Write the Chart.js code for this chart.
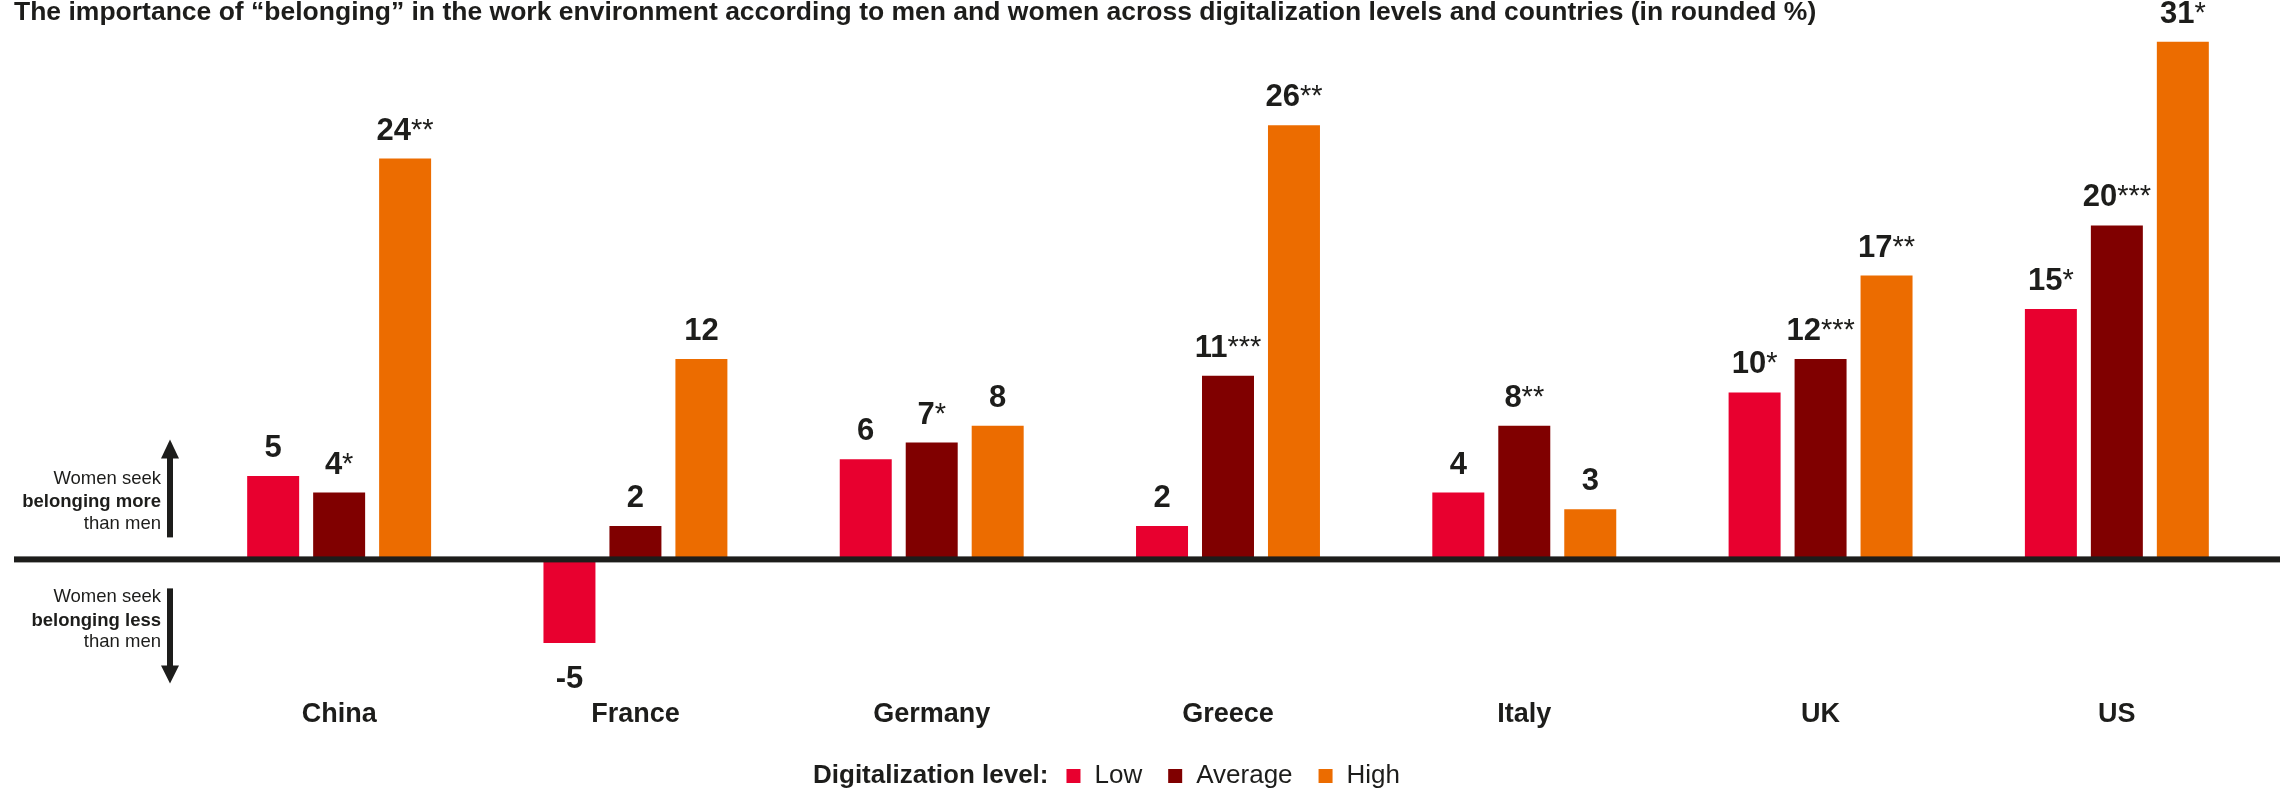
<!DOCTYPE html>
<html>
<head>
<meta charset="utf-8">
<script src="https://cdn.jsdelivr.net/npm/chart.js@4/dist/chart.umd.min.js"></script>
<style>
  html, body { margin: 0; padding: 0; background: #fff; }
  canvas { display: block; }
</style>
</head>
<body>
<canvas id="myChart" width="2280" height="790"></canvas>
<script>
// data
const countries = ['China', 'France', 'Germany', 'Greece', 'Italy', 'UK', 'US'];
const levels = ['Low', 'Average', 'High'];
const lowVals = [5, -5, 6, 2, 4, 10, 15];
const avgVals = [4, 2, 7, 11, 8, 12, 20];
const highVals = [24, 12, 8, 26, 3, 17, 31];
// significance stars next to each value
const lowStars = ['', '', '', '', '', '*', '*'];
const avgStars = ['*', '', '*', '***', '**', '***', '***'];
const highStars = ['**', '', '', '**', '', '**', '*'];

const titleText = 'The importance of \u201cbelonging\u201d in the work environment according to men and women across digitalization levels and countries (in rounded %)';
const legendTitle = 'Digitalization level:';

const colors = ['#e8002f', '#800000', '#ec6c00'];
const ink = '#1d1d1b';
const FONT = 'Arial, "Liberation Sans", sans-serif';

const starSets = [lowStars, avgStars, highStars];

// title, zero line, side notes, value labels, legend
const extras = {
  id: 'extras',
  afterDatasetsDraw(chart) {
    const ctx = chart.ctx;
    const y0 = chart.scales.y.getPixelForValue(0);
    ctx.save();

    // title
    ctx.fillStyle = ink;
    ctx.font = 'bold 26.5px ' + FONT;
    ctx.textAlign = 'left';
    ctx.textBaseline = 'middle';
    ctx.fillText(titleText, 14, 13);

    // zero line
    ctx.fillStyle = ink;
    ctx.fillRect(14, y0 - 3, chart.width - 14, 6);

    // notes on the left
    const notes = [
      [-80, 'Women seek', false], [-57, 'belonging more', true], [-35, 'than men', false],
      [38, 'Women seek', false], [62, 'belonging less', true], [83, 'than men', false]
    ];
    ctx.textAlign = 'right';
    ctx.textBaseline = 'middle';
    notes.forEach(n => {
      ctx.font = (n[2] ? 'bold ' : '') + '18.5px ' + FONT;
      ctx.fillText(n[1], 161, y0 + n[0]);
    });

    // arrows
    const ax = 170;
    ctx.fillRect(ax - 3, y0 - 104, 6, 82);
    ctx.beginPath();
    ctx.moveTo(ax, y0 - 120);
    ctx.lineTo(ax + 9, y0 - 101);
    ctx.lineTo(ax - 9, y0 - 101);
    ctx.closePath();
    ctx.fill();
    ctx.fillRect(ax - 3, y0 + 29, 6, 80);
    ctx.beginPath();
    ctx.moveTo(ax, y0 + 124);
    ctx.lineTo(ax + 9, y0 + 106);
    ctx.lineTo(ax - 9, y0 + 106);
    ctx.closePath();
    ctx.fill();

    // value labels
    chart.data.datasets.forEach((ds, di) => {
      const meta = chart.getDatasetMeta(di);
      meta.data.forEach((bar, i) => {
        const v = ds.data[i];
        const num = String(v);
        const stars = starSets[di][i];
        ctx.font = 'bold 31px ' + FONT;
        const w1 = ctx.measureText(num).width;
        ctx.font = '29px ' + FONT;
        const w2 = stars ? ctx.measureText(stars).width : 0;
        const x = bar.x - (w1 + w2) / 2;
        const base = v >= 0 ? bar.y - 19 : bar.y + 45;
        ctx.textAlign = 'left';
        ctx.textBaseline = 'alphabetic';
        ctx.font = 'bold 31px ' + FONT;
        ctx.fillText(num, x, base);
        if (stars) {
          ctx.font = '29px ' + FONT;
          ctx.fillText(stars, x + w1, base - 1);
        }
      });
    });

    // legend
    const ly = 776;
    let lx = 813;
    ctx.textBaseline = 'middle';
    ctx.textAlign = 'left';
    ctx.font = 'bold 26px ' + FONT;
    ctx.fillText(legendTitle, lx, ly);
    lx += ctx.measureText(legendTitle).width + 18;
    ctx.font = '26px ' + FONT;
    levels.forEach((name, k) => {
      ctx.fillStyle = colors[k];
      ctx.fillRect(lx, ly - 7, 14, 14);
      lx += 28;
      ctx.fillStyle = ink;
      ctx.fillText(name, lx, ly);
      lx += ctx.measureText(name).width + 26;
    });

    ctx.restore();
  }
};

const ctx = document.getElementById('myChart').getContext('2d');
const myChart = new Chart(ctx, {
  type: 'bar',
  data: {
    labels: countries,
    datasets: [
      { label: levels[0], data: lowVals, backgroundColor: colors[0] },
      { label: levels[1], data: avgVals, backgroundColor: colors[1] },
      { label: levels[2], data: highVals, backgroundColor: colors[2] }
    ]
  },
  options: {
    responsive: false,
    animation: false,
    devicePixelRatio: 1,
    layout: { padding: { left: 191, right: 15, top: 25, bottom: 0 } },
    datasets: {
      bar: { categoryPercentage: 0.668, barPercentage: 0.788, borderWidth: 0 }
    },
    plugins: {
      legend: { display: false },
      tooltip: { enabled: false },
      title: { display: false }
    },
    scales: {
      x: {
        grid: { display: false, drawTicks: false },
        border: { display: false },
        ticks: { color: ink, font: { family: FONT, size: 27, weight: 'bold' }, padding: 5 },
        afterFit(scale) { scale.height = 97; }
      },
      y: {
        display: false,
        min: -8,
        max: 32
      }
    }
  },
  plugins: [extras]
});
</script>
</body>
</html>
